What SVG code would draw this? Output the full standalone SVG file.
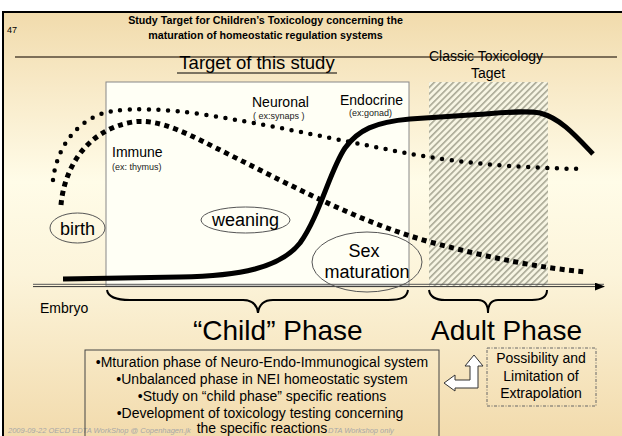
<svg xmlns="http://www.w3.org/2000/svg" width="622" height="436" viewBox="0 0 622 436">
<defs>
<linearGradient id="bg" x1="0" y1="12" x2="0" y2="436" gradientUnits="userSpaceOnUse">
<stop offset="0" stop-color="#f1dbac"/>
<stop offset="0.18" stop-color="#f8eac8"/>
<stop offset="0.4" stop-color="#fffce8"/>
<stop offset="0.62" stop-color="#fcf4da"/>
<stop offset="1" stop-color="#f2dbad"/>
</linearGradient>
<pattern id="hatch" patternUnits="userSpaceOnUse" width="4.5" height="4.5" patternTransform="rotate(45)">
<rect width="4.5" height="4.5" fill="#f7f5e3"/>
<line x1="0.8" y1="0" x2="0.8" y2="4.5" stroke="#a9a895" stroke-width="1.6"/>
</pattern>
<marker id="ah" markerWidth="10" markerHeight="8" refX="9" refY="4" orient="auto" markerUnits="userSpaceOnUse">
<path d="M0,0 L10,4 L0,8 Z" fill="#000"/>
</marker>
<style>
text{font-family:"Liberation Sans",Arial,sans-serif;fill:#000}
.t14{font-size:14px}
.small{font-size:9px;fill:#222}
.big{font-size:18px}
.phase{font-size:28px}
.ell{fill:none;stroke:#555;stroke-width:1}
.brace{fill:none;stroke:#000;stroke-width:2}
.foot{font-size:7.5px;font-style:italic;fill:#a8a8a8}
</style>
</defs>
<rect x="0" y="0" width="622" height="436" fill="#fff"/>
<rect x="3" y="12" width="619" height="424" fill="url(#bg)"/>
<path d="M3,436 L3,12 L622,12" fill="none" stroke="#000" stroke-width="2"/>

<g id="title">
<text x="7" y="33" style="font-size:9px">47</text>
<text x="265.5" y="24" text-anchor="middle" style="font-size:10.7px;font-weight:bold">Study Target for Children’s Toxicology concerning the</text>
<text x="265.5" y="39" text-anchor="middle" style="font-size:10.7px;font-weight:bold">maturation of homeostatic regulation systems</text>
<line x1="15" y1="57" x2="617" y2="57" stroke="#7d6f58" stroke-width="2"/>
</g>

<g id="target-box">
<rect x="106" y="82" width="303" height="204" fill="#fffff5" stroke="#888" stroke-width="1"/>
<text x="257" y="69" text-anchor="middle" style="font-size:18.5px">Target of this study</text>
<line x1="177" y1="73" x2="337" y2="73" stroke="#000" stroke-width="1"/>
</g>

<g id="classic-box">
<rect x="429" y="82" width="119" height="204" fill="url(#hatch)"/>
<text x="486" y="61" text-anchor="middle" class="t14">Classic Toxicology</text>
<text x="488" y="78" text-anchor="middle" class="t14">Taget</text>
</g>

<g id="labels">
<text x="252" y="107" class="t14">Neuronal</text>
<text x="253" y="119" class="small">( ex:synaps )</text>
<text x="340" y="105" class="t14">Endocrine</text>
<text x="349" y="116" class="small">(ex:gonad)</text>
<text x="112" y="157" class="t14">Immune</text>
<text x="112" y="170" class="small">(ex: thymus)</text>
<text x="40" y="313" class="t14">Embryo</text>
</g>

<g id="connectors">
<line x1="33" y1="284.3" x2="604" y2="284.3" stroke="#555" stroke-width="1"/>
<line x1="33" y1="286.6" x2="604" y2="286.6" stroke="#333" stroke-width="1" marker-end="url(#ah)"/>
<path id="neuronal-curve" d="M53,180 C57,145 80,116 113,111 C135,108 165,109 200,114 C260,123 320,136 360,144 C420,156 470,167 583,169" fill="none" stroke="#000" stroke-width="4.5" stroke-linecap="round" stroke-dasharray="0 9.6"/>
<path id="immune-curve" d="M61,205 C64,170 85,130 133,122 C160,118 190,135 230,155 C300,190 360,222 430,242 C490,258 540,268 587,272" fill="none" stroke="#000" stroke-width="5" stroke-dasharray="5 4.4"/>
<path id="endocrine-curve" d="M63,279 L180,277 C240,276 280,268 300,243 C320,215 330,170 345,148 C358,130 375,122 410,119 L470,115 C500,113 525,110 540,113 C560,118 575,135 593,154" fill="none" stroke="#000" stroke-width="5"/>
<path class="brace" d="M107,290 C108,297 115,300 130,300 L243,300 C252,300 257,305 258,313 C259,305 264,300 273,300 L388,300 C402,300 407,297 408,290"/>
<path class="brace" d="M429,290 C430,297 435,300 445,300 L478,300 C485,300 488,305 488,313 C488,305 491,300 498,300 L532,300 C542,300 547,297 547,290"/>
<path d="M444,383 L455,375 L455,380 L470,380 L470,366 L465,366 L474,355 L483,366 L478,366 L478,388 L455,388 L455,391 Z" fill="#fff" stroke="#333" stroke-width="1"/>
</g>

<g id="birth">
<ellipse cx="77.5" cy="228" rx="27.5" ry="15" class="ell"/>
<text x="77.5" y="235" text-anchor="middle" class="big">birth</text>
</g>
<g id="weaning">
<ellipse cx="245.5" cy="220" rx="44.5" ry="13" class="ell"/>
<text x="245.5" y="226" text-anchor="middle" class="big">weaning</text>
</g>
<g id="sex-maturation">
<ellipse cx="367" cy="262" rx="55" ry="30" class="ell"/>
<text x="364" y="257" text-anchor="middle" class="big">Sex</text>
<text x="367" y="278" text-anchor="middle" class="big">maturation</text>
</g>

<g id="phases">
<text x="193" y="340" class="phase">“Child” Phase</text>
<text x="431" y="340" class="phase">Adult Phase</text>
</g>

<g id="footer">
<text x="8" y="433" class="foot">2009-09-22 OECD EDTA WorkShop @ Copenhagen.jk</text>
<text x="328" y="433" class="foot">DTA Workshop only</text>
</g>

<g id="notes">
<rect x="85" y="350" width="354" height="90" fill="none" stroke="#444" stroke-width="1"/>
<text x="262" y="367" text-anchor="middle" class="t14">•Mturation phase of Neuro-Endo-Immunogical system</text>
<text x="262" y="384" text-anchor="middle" class="t14">•Unbalanced phase in NEI homeostatic system</text>
<text x="262" y="401" text-anchor="middle" class="t14">•Study on “child phase” specific reations</text>
<text x="260" y="418" text-anchor="middle" class="t14">•Development of toxicology testing concerning</text>
<text x="262" y="432.5" text-anchor="middle" class="t14">the specific reactions</text>
</g>

<g id="extrapolation">
<rect x="487" y="348" width="109" height="58" fill="none" stroke="#666" stroke-width="1" stroke-dasharray="3 1.5 1 1.5"/>
<text x="541" y="363" text-anchor="middle" class="t14">Possibility and</text>
<text x="541" y="381" text-anchor="middle" class="t14">Limitation of</text>
<text x="541" y="398" text-anchor="middle" class="t14">Extrapolation</text>
</g>
</svg>
